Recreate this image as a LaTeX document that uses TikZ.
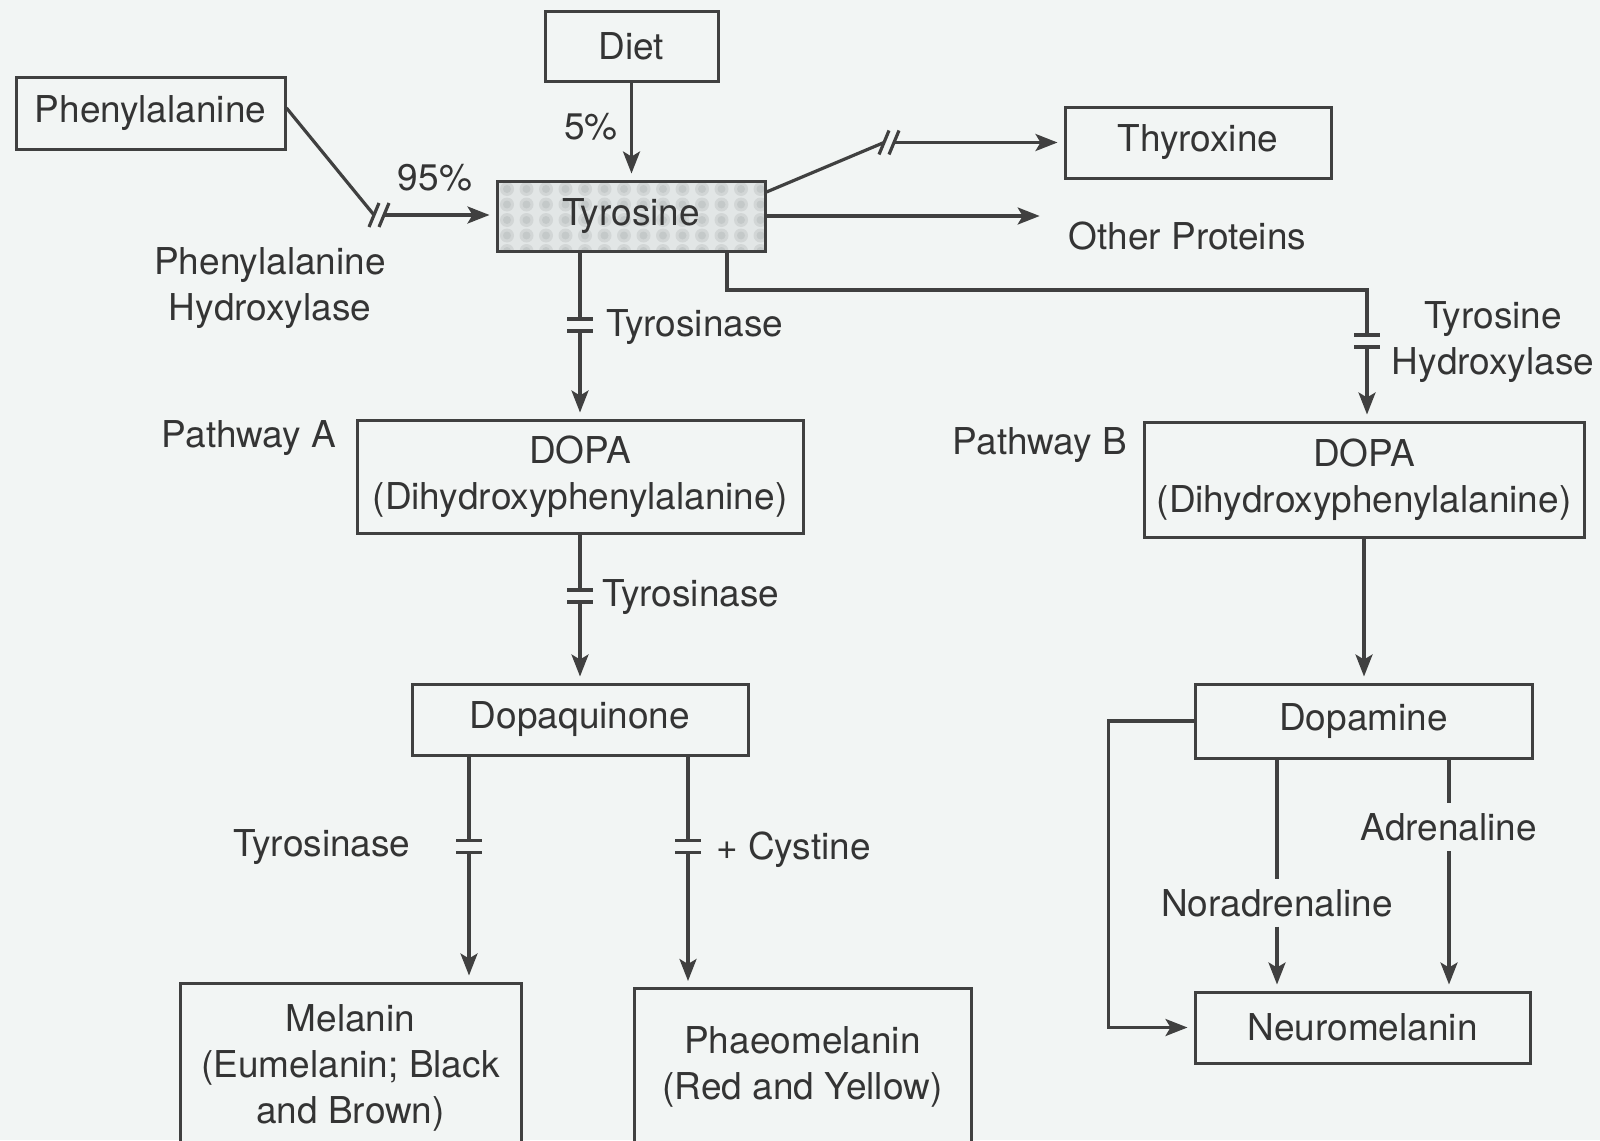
\documentclass[tikz,border=0pt]{standalone}
\usepackage{fontspec}
\setmainfont{TeX Gyre Heros}
\usetikzlibrary{arrows.meta,calc}
\definecolor{bgc}{RGB}{242,245,244}
\definecolor{lc}{RGB}{64,64,64}
\definecolor{tc}{RGB}{52,52,52}
\definecolor{tyrf}{RGB}{226,230,230}
\definecolor{tyrd}{RGB}{196,201,201}
\tikzset{
  every node/.style={text=tc, font=\fontsize{37}{46}\selectfont},
  box/.style={draw=lc, line width=3pt, inner sep=0pt, align=center, fill=bgc},
  conn/.style={draw=lc, line width=3.2pt},
  arr/.style={conn, -{Stealth[length=22pt,width=17pt,inset=5pt]}, shorten >=6pt},
  lbl/.style={inner sep=0pt, align=center},
  blk/.pic={\fill[bgc] (-5,-6) rectangle (5,6);
            \draw[conn] (-13,-6) -- (13,-6) (-13,6) -- (13,6);},
  brk/.pic={\draw[conn] (-10,12) -- (0,-12) (0,12) -- (10,-12);}
}
\begin{document}
\begin{tikzpicture}[x=1pt,y=-1pt]
\useasboundingbox (0,0) rectangle (1600,1140);
\fill[bgc] (0,0) rectangle (1600,1140);

% boxes
\node[box, minimum width=269pt, minimum height=72pt] (phe) at (150.5,113) {Phenylalanine};
\node[box, minimum width=173pt, minimum height=69pt] (diet) at (631.5,46.5) {Diet};
\node[box, minimum width=268pt, minimum height=70pt, fill=tyrf,
  path picture={
    \foreach \i in {0,...,13} \foreach \j in {0,...,4} {
      \fill[tyrd!55!tyrf] ($(path picture bounding box.north west)+(10+19.5*\i,8+15.5*\j)$) circle (7);
      \fill[tyrd] ($(path picture bounding box.north west)+(10+19.5*\i,8+15.5*\j)$) circle (4);
    }}] (tyr) at (631,216) {Tyrosine};
\node[box, minimum width=266pt, minimum height=71pt] (thy) at (1198,142.5) {Thyroxine};
\node[lbl, inner xsep=23pt] (oth) at (1187.5,236) {Other Proteins};
\node[box, minimum width=446pt, minimum height=113pt] (dopaA) at (580,476.5) {DOPA\\(Dihydroxyphenylalanine)};
\node[box, minimum width=440pt, minimum height=115pt] (dopaB) at (1364,479.5) {DOPA\\(Dihydroxyphenylalanine)};
\node[box, minimum width=336pt, minimum height=71pt] (dq) at (580,719.5) {Dopaquinone};
\node[box, minimum width=337pt, minimum height=74pt] (dpm) at (1363.5,721) {Dopamine};
\node[box, minimum width=341pt, minimum height=170pt] (mel) at (350.5,1068) {Melanin\\(Eumelanin; Black\\and Brown)};
\node[box, minimum width=337pt, minimum height=157pt] (pha) at (802.5,1067) {Phaeomelanin\\(Red and Yellow)};
\node[box, minimum width=335pt, minimum height=71pt] (neu) at (1362.5,1027.5) {Neuromelanin};

% labels
\node[lbl] (p5) at (591,127) {5\%};
\node[lbl] (p95) at (435,178) {95\%};
\node[lbl] (phh) at (270,288) {Phenylalanine\\Hydroxylase};
\node[lbl, anchor=west] (ty1) at (606,327) {Tyrosinase};
\node[lbl] (pa) at (249,438) {Pathway A};
\node[lbl] (pb) at (1040,445) {Pathway B};
\node[lbl] (th) at (1493,342) {Tyrosine\\Hydroxylase};
\node[lbl, anchor=west] (ty2) at (602,597) {Tyrosinase};
\node[lbl] (ty3) at (322,847) {Tyrosinase};
\node[lbl, anchor=west] (cys) at (716,850) {+ Cystine};
\node[lbl, minimum height=48pt] (adr) at (1449,827) {Adrenaline};
\node[lbl, minimum height=47pt] (nor) at (1277,903) {Noradrenaline};

% connectors
\draw[arr] (diet.south) -- (diet.south |- tyr.north);

\coordinate (pA) at (374,215);
\coordinate (pB) at (384,215);
\draw[conn] ([yshift=5pt]phe.east) -- (pA);
\draw[arr] (pB) -- (pB -| tyr.west);
\pic at (379,215) {brk};

\coordinate (tA) at (884,142.5);
\coordinate (tB) at (894,142.5);
\draw[conn] ([yshift=24pt]tyr.east) -- (tA);
\draw[arr] (tB) -- (thy.west);
\pic at (889,142.5) {brk};

\draw[arr] (tyr.east) -- (tyr.east -| oth.west);

\draw[arr] (dopaA.north |- tyr.south) -- (dopaA.north);
\pic at (580,325) {blk};

\coordinate (bturn) at (1367,290);
\draw[arr] ([xshift=96pt]tyr.south) |- (bturn) -- (bturn |- dopaB.north);
\pic at (1367,341) {blk};

\draw[arr] (dopaA.south) -- (dq.north);
\pic at (580,596) {blk};

\draw[arr] ([xshift=-111pt]dq.south) -- ([xshift=-111pt]dq.south |- mel.north);
\pic at (469,846.5) {blk};
\draw[arr] ([xshift=108pt]dq.south) -- ([xshift=108pt]dq.south |- pha.north);
\pic at (688,846.5) {blk};

\draw[arr] (dopaB.south) -- (dopaB.south |- dpm.north);
\draw[arr] (dpm.west) -- ++(-85,0) |- (neu.west);
\draw[conn] (dpm.south -| nor.north) -- (nor.north);
\draw[arr] (nor.south) -- (nor.south |- neu.north);
\draw[conn] (dpm.south -| adr.north) -- (adr.north);
\draw[arr] (adr.south) -- (adr.south |- neu.north);
\end{tikzpicture}
\end{document}
